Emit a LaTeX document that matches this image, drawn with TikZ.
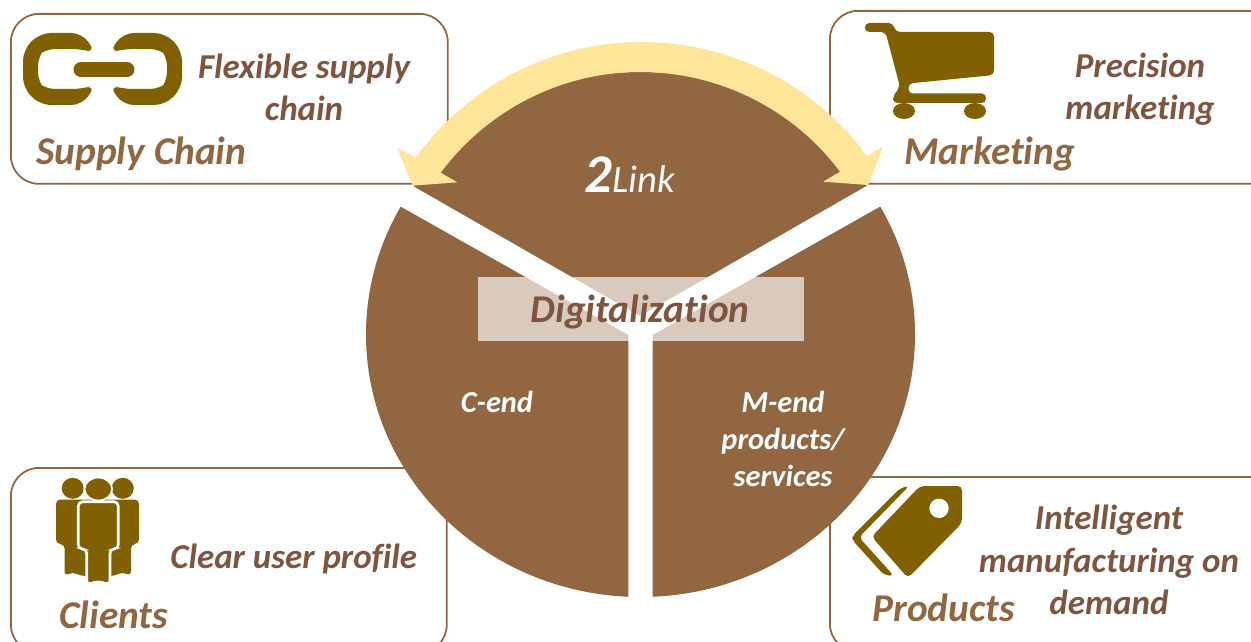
\documentclass[tikz,border=0pt]{standalone}
\usepackage{fontspec}
\setmainfont{Carlito}[Ligatures=NoCommon]
\usetikzlibrary{positioning}
\definecolor{sectorbrown}{HTML}{926640}
\definecolor{descbrown}{HTML}{7F5540}
\definecolor{iconbrown}{HTML}{806000}
\definecolor{arrowyellow}{HTML}{FFE599}
\begin{document}
\begin{tikzpicture}[
        x=0.02cm, y=-0.02cm,
        areabox/.style={draw=sectorbrown, line width=1pt, rounded corners=16pt, fill=white, anchor=north west, inner sep=0pt},
        heading/.style={text=sectorbrown, font=\fontsize{22.4}{25}\selectfont\bfseries\itshape, anchor=base west, inner sep=0pt},
        descr/.style={text=descbrown, font=\fontsize{19.9}{24}\selectfont\bfseries\itshape, align=center, inner sep=0pt},
        sectortext/.style={text=white, font=\fontsize{17.3}{21}\selectfont\bfseries\itshape, align=center, inner sep=0pt},
        icon/.style={fill=iconbrown, rounded corners=2.5pt}
    ]
        \clip (0,0) rectangle (1251,642);

        % Outer boxes
        \node[areabox, minimum width=8.74cm, minimum height=3.4cm] (supplybox) at (10,13) {};
        \node[areabox, minimum width=9cm, minimum height=3.46cm] (marketbox) at (829,10) {};
        \node[areabox, minimum width=8.72cm, minimum height=3.7cm] (clientbox) at (10,467) {};
        \node[areabox, minimum width=9cm, minimum height=3.5cm] (productbox) at (829,476) {};

        % Three sectors
        \begin{scope}
            \clip (640.5,334.5) ellipse [x radius=274.5, y radius=262.5];
            \fill[sectorbrown] (413,186) -- (640,316) -- (868,185) -- (868,0) -- (413,0) -- cycle;
            \fill[sectorbrown] (400.7,206.7) -- (628.3,335) -- (628.3,642) -- (300,642) -- (300,206.7) -- cycle;
            \fill[sectorbrown] (880,206.7) -- (652.7,335) -- (652.7,642) -- (980,642) -- (980,206.7) -- cycle;
        \end{scope}

        % Double arrow
        \fill[arrowyellow] (412.7,185.7) -- (397.3,148) -- (415.7,157.7)
            .. controls (468.1,85.5) and (551.8,42) .. (641,42)
            .. controls (730.2,42) and (814.3,83.8) .. (866.7,156)
            -- (883.3,146.7) -- (868,185) -- (823.3,181.7) -- (840,171.7)
            .. controls (793,108.7) and (718.5,72) .. (640,72)
            .. controls (561.5,72) and (487.7,109.7) .. (440.7,172.7)
            -- (457.3,182.3) -- cycle;

        % Centre band
        \node[fill=white, fill opacity=0.66, minimum width=6.52cm, minimum height=1.28cm, inner sep=0pt] (band) at (641,309) {};
        \node[heading, text=descbrown, anchor=center] (digital) at (640,312) {Digitalization};

        % Sector texts
        \node[text=white, font=\fontsize{31}{31}\selectfont\bfseries\itshape, anchor=base west, inner sep=0pt] (two) at (584,193) {2};
        \node[text=white, font=\fontsize{22}{22}\selectfont\itshape, inner sep=0pt, right=0pt of two.base east, anchor=base west] (link) {Link};
        \node[sectortext] (cend) at (497,402) {C-end};
        \node[sectortext] (mend) at (783,439) {M-end\\products/\\services};

        % Box texts
        \node[heading] (supplyhead) at (36,164) {Supply Chain};
        \node[descr] (supplytext) at (304,87) {Flexible supply\\chain};
        \node[heading] (markethead) at (904,164) {Marketing};
        \node[descr] (markettext) at (1140,89) {Precision\\marketing};
        \node[heading] (clienthead) at (59,628) {Clients};
        \node[descr, anchor=base west] (clienttext) at (170,568) {Clear user profile};
        \node[heading] (producthead) at (872,621) {Products};
        \node[descr] (producttext) at (1109,560) {Intelligent\\manufacturing on\\demand};

        % Chain icon
        \fill[icon, rounded corners=6pt] (96,53) -- (82,33) -- (40,33) -- (23,50) -- (23,88) -- (40,105) -- (82,105) -- (96,85)
            -- (82,89) -- (44,89) -- (38,83) -- (38,55) -- (44,49) -- (82,49) -- cycle;
        \fill[icon, rounded corners=6pt] (109,53) -- (123,33) -- (165,33) -- (182,50) -- (182,88) -- (165,105) -- (123,105) -- (109,85)
            -- (123,89) -- (161,89) -- (167,83) -- (167,55) -- (161,49) -- (123,49) -- cycle;
        \draw[iconbrown, line width=8.5pt, line cap=round] (81,69.5) -- (127,69.5);

        % Cart icon
        \fill[icon] (865,23) -- (893,23) -- (895.5,32) -- (994,32) -- (994,75) -- (908.5,83.5) -- (908.5,93.5)
            -- (986,93.5) -- (986,103) -- (893,103) -- (893,96) -- (900,87) -- (885.5,32) -- (865,32) -- cycle;
        \fill[iconbrown] (904,111) ellipse [x radius=11, y radius=8];
        \fill[iconbrown] (975,111) ellipse [x radius=11, y radius=8];

        % People icon
        \foreach \px in {72.7,122.7}
            \fill[iconbrown] (\px,488.3) ellipse [x radius=11, y radius=10.5];
        \fill[icon] (56,499.5) -- (139,499.5) -- (139,544) -- (131,544) -- (131,576) -- (122.5,572) -- (114,576)
            -- (81,576) -- (73,572) -- (64.5,576) -- (64.5,544) -- (56,544) -- cycle;
        \filldraw[iconbrown, draw=white, line width=1pt] (98.3,489) ellipse [x radius=13.8, y radius=11.5];
        \filldraw[icon, draw=white, line width=1.5pt] (78.3,501.7) -- (118.3,501.7) -- (118.3,549) -- (110,549)
            -- (110,585) -- (98.3,581) -- (86.7,585) -- (86.7,549) -- (78.3,549) -- cycle;

        % Tag icon
        \fill[icon] (909.3,485.7) -- (900,488.3) -- (852.3,536) -- (852.3,540) -- (884,575) -- (894,576) -- (859,537.3) -- cycle;
        \fill[icon] (871.7,536.7) -- (920,486) -- (962,486) -- (962,523) -- (908,578) -- cycle;
        \fill[white] (939,508.3) circle [radius=9.7];
    \end{tikzpicture}
\end{document}
